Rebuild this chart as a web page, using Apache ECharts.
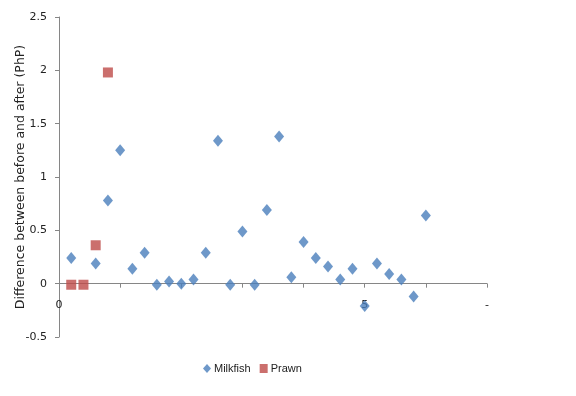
<!DOCTYPE html>
<html><head><meta charset="utf-8">
<script src="https://cdn.jsdelivr.net/npm/echarts@6/dist/echarts.min.js"></script>
<style>html,body{margin:0;padding:0;background:#fff}#c{width:576px;height:396px}</style>
</head><body><div id="c"></div>
<script>
// x positions are sample indices (1..30); axis runs 0..35 with a tick every 5
const milkfishIdx = [1,3,4,5,6,7,8,9,10,11,12,13,14,15,16,17,18,19,20,21,22,23,24,25,26,27,28,29,30];
const milkfishVal = [0.24,0.19,0.78,1.25,0.14,0.29,-0.01,0.02,0.00,0.04,0.29,1.34,-0.01,0.49,-0.01,0.69,1.38,0.06,0.39,0.24,0.16,0.04,0.14,-0.21,0.19,0.09,0.04,-0.12,0.64];
const prawnIdx = [1,2,3,4];
const prawnVal = [-0.01,-0.01,0.36,1.98];
const xTickLabels = ['0','','','','','5','','-'];
const yTickLabels = ['-0.5','0','0.5','1','1.5','2','2.5'];

const chart = echarts.init(document.getElementById('c'));
const font = 'DejaVu Sans, Verdana, sans-serif';
const font2 = 'Liberation Sans, Arial, sans-serif';
chart.setOption({
  animation:false,
  grid:{left:59,right:89,top:17,bottom:59,containLabel:false,outerBoundsMode:'none'},
  xAxis:{type:'value',min:0,max:35,interval:5,
    axisLine:{onZero:true,lineStyle:{color:'#868686'}},
    axisTick:{show:true,length:4,inside:false,lineStyle:{color:'#868686'}},
    axisLabel:{margin:-37,color:'#222',fontSize:11,fontFamily:font,
      formatter:v=>xTickLabels[Math.round(v/5)]||''},
    splitLine:{show:false}},
  yAxis:{type:'value',min:-0.5,max:2.5,interval:0.5,
    name:'Difference between before and after (PhP)',nameLocation:'middle',nameGap:32,
    nameMoveOverlap:false,
    nameTextStyle:{fontSize:12.5,fontFamily:font,color:'#222'},
    axisLine:{show:true,lineStyle:{color:'#868686'}},
    axisTick:{show:true,length:4,lineStyle:{color:'#868686'}},
    axisLabel:{color:'#222',fontSize:11,fontFamily:font,margin:12,
      formatter:v=>yTickLabels[Math.round((v+0.5)/0.5)]},
    splitLine:{show:false}},
  legend:{bottom:17,left:198,itemGap:9,itemWidth:8,itemHeight:9,
    textStyle:{fontSize:11,fontFamily:font2,color:'#222',padding:[0,0,0,-2]},
    data:[{name:'Milkfish',icon:'diamond'},{name:'Prawn',icon:'rect'}]},
  series:[
    {name:'Milkfish',type:'scatter',symbol:'diamond',symbolSize:[10,12],
      itemStyle:{color:'#4A7EBB'},
      data:milkfishIdx.map((x,i)=>[x,milkfishVal[i]])},
    {name:'Prawn',type:'scatter',symbol:'rect',symbolSize:10,
      itemStyle:{color:'#BE4B48'},
      data:prawnIdx.map((x,i)=>[x,prawnVal[i]])}
  ]
});
</script></body></html>
